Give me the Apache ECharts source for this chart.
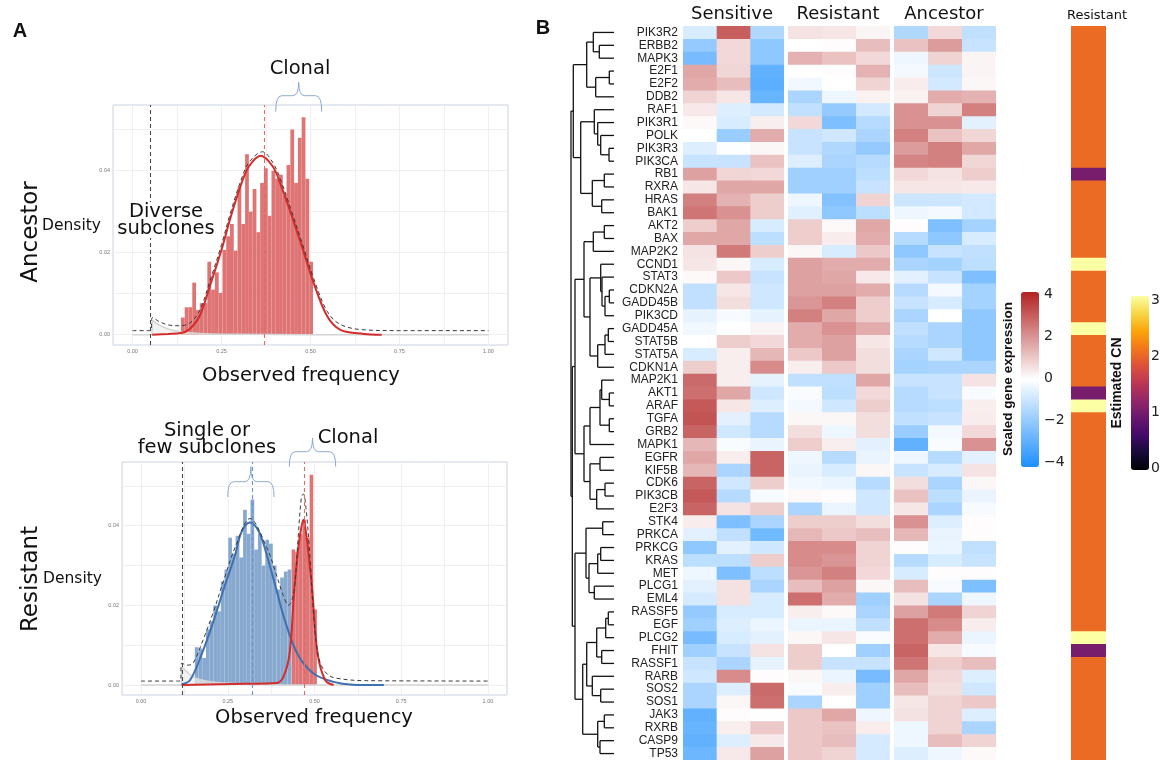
<!DOCTYPE html>
<html><head><meta charset="utf-8">
<script src="https://cdn.jsdelivr.net/npm/echarts@6/dist/echarts.min.js"></script>
<style>html,body{margin:0;padding:0;background:#fff}#c{width:1163px;height:760px}</style>
</head><body><div id="c"></div>
<script>
// ---------------- DATA ----------------
const freqTicks = [0, 0.25, 0.5, 0.75, 1];
const freqGrid = [0, 0.125, 0.25, 0.375, 0.5, 0.625, 0.75, 0.875, 1];
const densTicks = [0, 0.02, 0.04];
const densGrid = [0, 0.01, 0.02, 0.03, 0.04, 0.05];

// Ancestor histogram (observed frequency bins)
const ancHistStart = 0.136, ancHistWidth = 0.0106;
const ancHist = [0.0042,0.0067,0.0067,0.0127,0.0060,0.0077,0.0077,0.0178,0.0110,0.0152,0.0102,0.0207,0.0240,0.0270,0.0205,0.0360,0.0270,0.0440,0.0300,0.0355,0.0250,0.0370,0.0406,0.0290,0.0400,0.0380,0.0390,0.0340,0.0414,0.0500,0.0370,0.0480,0.0530,0.0380,0.0178];
const ancClonalCurve = [[0.055,0],[0.10,0.0002],[0.136,0.0004],[0.158,0.0012],[0.188,0.0045],[0.22,0.0126],[0.25,0.0207],[0.276,0.0288],[0.306,0.0369],[0.327,0.041],[0.36,0.0436],[0.394,0.041],[0.415,0.0369],[0.448,0.0288],[0.479,0.0207],[0.509,0.0126],[0.547,0.0045],[0.584,0.0012],[0.65,0.0002],[0.70,0]];
const ancTotalCurve = [[0,0.001],[0.05,0.001],[0.056,0.0042],[0.075,0.0032],[0.10,0.0024],[0.13,0.0022],[0.16,0.0028],[0.188,0.0058],[0.22,0.0138],[0.25,0.022],[0.276,0.030],[0.306,0.038],[0.327,0.042],[0.365,0.0446],[0.394,0.042],[0.415,0.038],[0.448,0.0298],[0.479,0.0217],[0.509,0.0137],[0.547,0.0057],[0.584,0.0025],[0.65,0.0012],[0.75,0.001],[1.0,0.001]];
const ancSubCurve = [[0,0],[0.054,0],[0.056,0.0035],[0.07,0.0026],[0.10,0.0014],[0.13,0.0008],[0.16,0.0005],[0.22,0.0002],[0.30,0.0001],[0.5,0],[1.0,0]];
const ancDetection = 0.0535, ancClonalMean = 0.368;

// Resistant histogram
const resSubHistStart = 0.155, resSubHistWidth = 0.0107;
const resSubHist = [0.0095,0.0092,0.0068,0.0140,0.0160,0.0200,0.0185,0.0260,0.0290,0.0370,0.0330,0.0375,0.0320,0.0440,0.0380,0.0466,0.0340,0.0380,0.0300,0.0365,0.0355,0.0300,0.0240,0.0270,0.0285,0.0290];
const resClHistStart = 0.434, resClHistWidth = 0.0104;
const resClHist = [0.0340,0.0335,0.0380,0.0415,0.0370,0.0528,0.0190];
const resSubCurve = [[0.117,0.0002],[0.141,0.0012],[0.175,0.0078],[0.209,0.0161],[0.239,0.0243],[0.271,0.0326],[0.29,0.0385],[0.314,0.0408],[0.34,0.0385],[0.3625,0.0326],[0.389,0.0243],[0.415,0.0161],[0.451,0.0078],[0.497,0.0029],[0.555,0.0008],[0.61,0.0001],[0.7,0]];
const resClCurve = [[0.117,0],[0.30,0.0003],[0.39,0.0005],[0.41,0.0020],[0.428,0.0078],[0.442,0.0243],[0.451,0.0326],[0.459,0.038],[0.468,0.0415],[0.476,0.038],[0.483,0.0326],[0.493,0.0243],[0.509,0.0078],[0.531,0.0012],[0.555,0]];
const resTotalCurve = [[0,0.001],[0.113,0.001],[0.117,0.0055],[0.135,0.0050],[0.15,0.0055],[0.175,0.0105],[0.209,0.0185],[0.239,0.0265],[0.271,0.0345],[0.314,0.0418],[0.3625,0.0345],[0.389,0.028],[0.41,0.0225],[0.425,0.0200],[0.44,0.0230],[0.452,0.0360],[0.462,0.0470],[0.468,0.0480],[0.476,0.0440],[0.487,0.0320],[0.50,0.0150],[0.515,0.0060],[0.54,0.0025],[0.58,0.0015],[0.65,0.0011],[1.0,0.001]];
const resBgCurve = [[0,0],[0.116,0],[0.118,0.0045],[0.13,0.0035],[0.15,0.0020],[0.2,0.0008],[0.3,0.0002],[0.45,0],[1.0,0]];
const resDetection = 0.117, resSubMean = 0.321, resClonalMean = 0.468;

// Heatmap
const genes = ['PIK3R2','ERBB2','MAPK3','E2F1','E2F2','DDB2','RAF1','PIK3R1','POLK','PIK3R3','PIK3CA','RB1','RXRA','HRAS','BAK1','AKT2','BAX','MAP2K2','CCND1','STAT3','CDKN2A','GADD45B','PIK3CD','GADD45A','STAT5B','STAT5A','CDKN1A','MAP2K1','AKT1','ARAF','TGFA','GRB2','MAPK1','EGFR','KIF5B','CDK6','PIK3CB','E2F3','STK4','PRKCA','PRKCG','KRAS','MET','PLCG1','EML4','RASSF5','EGF','PLCG2','FHIT','RASSF1','RARB','SOS2','SOS1','JAK3','RXRB','CASP9','TP53'];
const groups = ['Sensitive','Resistant','Ancestor'];
const sensitiveExpr = [[-0.7,2.9,-1.4],[-1.9,0.7,-2.0],[-2.4,0.7,-2.0],[1.6,0.75,-2.8],[1.5,1.2,-2.9],[0.8,0.45,-2.7],[0.4,-0.6,-0.8],[0.1,-0.7,0.3],[0.0,-1.8,1.5],[-0.6,-0.05,0.15],[-1.0,-1.0,1.1],[1.7,0.75,0.7],[0.45,1.6,1.6],[2.3,1.4,0.9],[2.5,2.0,0.9],[0.9,1.6,-0.7],[1.6,1.6,-1.2],[0.5,2.4,0.9],[0.45,0.15,-0.7],[0.1,1.0,-1.0],[-1.1,0.45,-0.85],[-1.1,0.6,-0.85],[-0.45,-0.15,-0.45],[-0.25,0.0,0.2],[0.0,0.9,0.7],[-0.7,0.3,1.3],[0.9,0.3,2.1],[2.7,0.3,-0.45],[2.6,1.6,-0.85],[3.0,0.45,-0.6],[3.1,-0.5,-1.3],[2.8,-0.85,-1.3],[1.3,-0.1,-0.4],[1.6,0.3,2.8],[1.3,-1.5,2.8],[2.8,-0.85,0.9],[3.0,-1.3,-0.15],[2.8,0.5,0.9],[0.35,-2.3,-1.5],[-0.5,-1.1,-2.5],[-2.0,-0.5,-0.85],[-1.2,-1.2,0.9],[-0.3,-2.3,-1.2],[-0.5,0.55,-1.5],[-0.75,0.55,-0.7],[-1.9,-0.7,-0.7],[-1.7,-0.6,-0.35],[-2.4,-0.7,-0.5],[-1.7,-1.0,0.5],[-1.0,-1.5,-0.45],[-0.85,2.1,0.05],[-1.5,-0.6,2.7],[-1.5,0.15,2.6],[-2.8,0.05,0.02],[-2.7,0.3,1.0],[-2.8,-0.6,0.4],[-2.6,0.4,1.7]];
const resistantExpr = [[0.5,0.45,0.2],[0.0,0.05,1.2],[1.4,1.1,0.7],[0.0,0.05,1.4],[-0.25,0.0,0.8],[-1.5,-0.3,0.25],[-1.1,-1.9,-0.8],[0.7,-2.3,-1.3],[-1.0,-0.85,-1.5],[-1.0,-1.4,-1.9],[-0.6,-1.5,-1.3],[-1.7,-1.7,-1.2],[-1.7,-1.7,-1.0],[-0.3,-2.2,0.8],[-0.55,-2.0,-1.2],[0.9,0.1,1.6],[0.9,0.35,1.5],[0.15,-0.7,1.0],[1.7,1.5,1.5],[1.7,1.6,0.4],[1.7,1.7,1.5],[1.9,2.3,0.9],[2.3,1.6,0.9],[1.5,2.0,1.5],[1.5,1.7,0.45],[1.0,1.7,0.6],[0.3,1.0,0.6],[-1.1,-1.1,1.6],[-0.1,-1.2,0.7],[-0.2,-0.85,0.9],[0.15,0.15,0.6],[0.6,-0.3,0.6],[0.9,0.3,-0.5],[-0.3,-1.3,-0.4],[-0.4,-0.7,0.15],[-0.25,-0.35,-1.3],[0.1,0.05,-0.85],[-1.5,-0.35,-0.85],[0.9,0.9,0.6],[1.3,1.0,1.2],[2.1,2.1,0.8],[2.1,1.9,0.8],[1.9,2.3,0.7],[1.2,1.7,0.15],[2.6,1.5,-1.7],[0.3,0.1,-1.5],[-0.35,-0.35,-1.1],[0.15,0.45,-0.1],[0.9,0.0,-1.7],[0.9,-1.0,-1.0],[0.15,-0.35,-2.4],[-0.1,0.3,-1.7],[-1.5,0.0,-1.7],[1.0,1.6,-0.3],[1.0,1.1,0.35],[1.0,1.2,-0.75],[1.0,0.8,-0.75]];
const ancestorExpr = [[-1.4,0.7,-1.1],[1.1,1.8,-1.0],[-0.3,0.8,0.2],[-0.2,-0.9,0.2],[0.35,-0.8,0.15],[0.25,1.5,1.4],[2.0,0.8,2.3],[2.0,2.0,-0.5],[2.3,1.1,0.75],[1.8,2.3,1.6],[2.2,2.3,0.75],[0.7,0.5,0.9],[0.45,0.45,0.4],[-0.9,-0.9,-0.8],[-0.3,-0.2,-0.8],[0.05,-2.3,-1.6],[-1.3,-2.0,-0.7],[-2.0,-1.0,-1.1],[-1.5,-1.6,-1.2],[-0.5,-1.0,-2.3],[-1.3,-0.2,-1.6],[-1.0,-0.7,-1.6],[-1.5,0.0,-2.0],[-1.1,-1.5,-2.0],[-1.3,-1.5,-2.0],[-1.5,-0.85,-2.0],[-1.6,-1.5,-1.5],[-1.0,-1.0,0.5],[-1.3,-1.0,-0.1],[-1.3,-1.2,0.3],[-1.1,-1.0,0.35],[-1.8,-0.2,0.7],[-2.8,-0.1,2.0],[-0.3,-1.3,-0.5],[-1.0,-0.7,0.5],[0.6,-1.5,0.15],[1.1,-1.2,-0.4],[0.45,-1.5,-0.15],[2.0,-0.6,0.05],[1.3,-0.4,0.05],[0.05,-0.35,-1.1],[-1.3,-0.7,-1.0],[-0.7,0.05,0.05],[1.2,-0.15,-2.3],[0.55,-1.5,-0.3],[1.7,2.4,0.8],[2.6,2.1,0.35],[2.6,1.5,-0.35],[2.8,0.45,-0.15],[2.5,0.9,1.2],[1.6,0.7,-0.6],[1.2,0.6,-0.85],[0.45,0.8,1.0],[0.55,0.8,-0.6],[-0.3,0.8,-1.5],[-0.3,1.2,0.8],[-0.6,-0.3,0.1]];
const resistantCN = [2,2,2,2,2,2,2,2,2,2,2,1,2,2,2,2,2,2,3,2,2,2,2,3,2,2,2,2,1,3,2,2,2,2,2,2,2,2,2,2,2,2,2,2,2,2,2,3,1,2,2,2,2,2,2,2,2];

// Dendrogram merges: [left, right, height]; '#k' refers to merge k
const dendroMerges = [
 ['ERBB2','MAPK3',14.7],['PIK3R2','#0',20.7],['E2F1','E2F2',4.7],['#2','DDB2',18.3],['#1','#3',27.3],
 ['PIK3R3','PIK3CA',5],['POLK','#5',13.3],['PIK3R1','#6',16.3],['RAF1','#7',19.7],['RB1','RXRA',9.7],
 ['HRAS','BAK1',12.3],['#9','#10',21.7],['#8','#11',33.3],['#4','#12',40.7],
 ['AKT2','BAX',9.7],['#14','MAP2K2',20.7],['CDKN2A','GADD45B',4.7],['#16','PIK3CD',9],['STAT3','#17',12],
 ['CCND1','#18',13.3],['GADD45A','STAT5B',5.7],['#20','STAT5A',9],['#21','CDKN1A',16.3],['#19','#22',24],
 ['#15','#23',30],['AKT1','ARAF',4.7],['MAP2K1','#25',12.3],['TGFA','GRB2',4.7],['#26','#27',14],
 ['#28','MAPK1',24],['EGFR','KIF5B',14],['CDK6','PIK3CB',9],['#31','E2F3',17.3],['#30','#32',24],
 ['#29','#33',30],['#24','#34',39],
 ['STK4','PRKCA',11.3],['PRKCG','KRAS',13.3],['#37','MET',16.3],['PLCG1','EML4',19.7],['#38','#39',25],
 ['#36','#40',28],['RASSF5','EGF',5.7],['#42','PLCG2',8.3],['FHIT','RASSF1',12.3],['#43','#44',17.3],
 ['SOS2','SOS1',13.3],['RARB','#46',21.7],['#45','#47',27.3],['JAK3','RXRB',9.7],['CASP9','TP53',14],
 ['#49','#50',16.3],['#48','#51',31.3],['#41','#52',39],['#35','#53',41.7],['#13','#54',43]
];

// ---------------- BUILD ----------------
const inferno = ['#000004','#160b39','#420a68','#6a176e','#932667','#bc3754','#dd513a','#f37819','#fca50a','#f6d746','#fcffa4'];
const fmt2 = v => v.toFixed(2);
const minus = v => v < 0 ? '\u2212' + (-v) : String(v);

function histItems(start, w, hs) { return hs.map((h, i) => [start + i * w, start + (i + 1) * w, h]); }
function histSeries(xi, items, color) {
  return { type: 'custom', xAxisIndex: xi, yAxisIndex: xi, data: items, encode: { x: [0, 1], y: 2 }, silent: true, z: 2,
    renderItem: (p, api) => {
      const a = api.coord([api.value(0), api.value(2)]), b = api.coord([api.value(1), 0]);
      return { type: 'rect', shape: { x: a[0], y: a[1], width: b[0] - a[0], height: b[1] - a[1] }, style: { fill: color } };
    } };
}
function curve(xi, data, color, width, type, extra) {
  return Object.assign({ type: 'line', xAxisIndex: xi, yAxisIndex: xi, data: data, smooth: 0.35, showSymbol: false, silent: true, z: 4,
    lineStyle: { color: color, width: width, type: type } }, extra || {});
}
function vline(v, color) {
  return { xAxis: v, lineStyle: { color: color, type: [4, 3], width: 1.1 } };
}
function histAxes(gi) {
  return {
    x: { type: 'value', gridIndex: gi, min: -0.055, max: 1.055, axisLine: { show: false },
      axisTick: { show: false, customValues: freqGrid },
      axisLabel: { customValues: freqTicks, formatter: fmt2, fontSize: 5.5, color: '#777', margin: 3 },
      splitLine: { show: true, lineStyle: { color: '#ececf1', width: 0.8 } } },
    y: { type: 'value', gridIndex: gi, min: -0.0025, max: 0.056, axisLine: { show: false },
      axisTick: { show: false, customValues: densGrid },
      axisLabel: { customValues: densTicks, formatter: fmt2, fontSize: 5.5, color: '#777', margin: 3 },
      splitLine: { show: true, lineStyle: { color: '#ececf1', width: 0.8 } } }
  };
}
// heatmap-like cells drawn through the category axes, overlapping slightly to avoid seams
function cellSeries(xi, data, nCols) {
  return { type: 'custom', xAxisIndex: xi, yAxisIndex: xi, data: data, encode: { x: 0, y: 1 }, silent: true,
    renderItem: (p, api) => {
      const c = api.coord([api.value(0), api.value(1)]), s = api.size([1, 1]);
      const ex = api.value(0) < nCols - 1 ? 1 : 0, ey = api.value(1) < genes.length - 1 ? 1.2 : 0;
      return { type: 'rect', shape: { x: c[0] - s[0] / 2, y: c[1] - s[1] / 2, width: s[0] + ex, height: s[1] + ey },
        style: { fill: api.visual('color') } };
    } };
}

// dendrogram segments from merges
const nodes = {};
genes.forEach((g, i) => nodes[g] = { y: i, h: 0 });
const dendroSegs = [];
dendroMerges.forEach((m, k) => {
  const a = nodes[m[0]], b = nodes[m[1]], h = m[2];
  dendroSegs.push([a.h, a.y, h, a.y], [b.h, b.y, h, b.y], [h, a.y, h, b.y]);
  nodes['#' + k] = { y: (a.y + b.y) / 2, h: h };
});

const toCells = rows => rows.flatMap((r, i) => r.map((v, j) => [j, i, v]));

const grids = [
  { left: 113, top: 105, width: 395, height: 240, show: true, borderColor: '#ccd3df', borderWidth: 1, backgroundColor: '#fff' },
  { left: 122, top: 462, width: 385, height: 233, show: true, borderColor: '#ccd3df', borderWidth: 1, backgroundColor: '#fff' },
  { left: 683, top: 26, width: 101, height: 734 },
  { left: 788, top: 26, width: 102, height: 734 },
  { left: 894, top: 26, width: 102, height: 734 },
  { left: 567, top: 26, width: 47, height: 734 },
  { left: 1071, top: 26, width: 35, height: 734 },
  { left: 1021, top: 294.3, width: 18, height: 168.4 },
  { left: 1131, top: 300.7, width: 18, height: 167.3 }
];
const h0 = histAxes(0), h1 = histAxes(1);
const catX = gi => ({ type: 'category', gridIndex: gi, data: ['1', '2', '3'], show: false });
const geneY = (gi, showLabels) => ({ type: 'category', gridIndex: gi, data: genes, inverse: true,
  axisLine: { show: false }, axisTick: { show: false },
  axisLabel: { show: showLabels, interval: 0, fontSize: 12, color: '#222', margin: 5, fontFamily: 'Liberation Sans, Arial, sans-serif' } });

const xAxes = [h0.x, h1.x, catX(2), catX(3), catX(4),
  { type: 'value', gridIndex: 5, min: 0, max: 47, inverse: true, show: false },
  { type: 'category', gridIndex: 6, data: ['Resistant'], show: false },
  { type: 'value', gridIndex: 7, show: false, min: 0, max: 1 },
  { type: 'value', gridIndex: 8, show: false, min: 0, max: 1 }];
const barAxis = (gi, min, max, interval, pos, labels, fmt) => ({ type: 'value', gridIndex: gi, min, max, interval, position: pos,
  axisLine: { show: false }, splitLine: { show: false },
  axisTick: { show: true, inside: true, length: 4, lineStyle: { color: '#ffffff', width: 1 } },
  axisLabel: { show: labels, margin: 5, fontSize: 14, color: '#222', fontFamily: 'DejaVu Sans, sans-serif', formatter: fmt } });
const yAxes = [h0.y, h1.y, geneY(2, true), geneY(3, false), geneY(4, false),
  { type: 'value', gridIndex: 5, min: -0.5, max: genes.length - 0.5, inverse: true, show: false },
  geneY(6, false),
  barAxis(7, -4, 4, 2, 'right', true, minus), barAxis(7, -4, 4, 2, 'left', false, minus),
  barAxis(8, 0, 3, 1, 'right', true, v => String(v)), barAxis(8, 0, 3, 1, 'left', false, v => String(v))];

const series = [
  histSeries(0, histItems(ancHistStart, ancHistWidth, ancHist), '#df7474'),
  curve(0, ancSubCurve, '#d4d4d4', 1.5, 'solid', { areaStyle: { color: '#ececec', opacity: 0.7 } }),
  curve(0, ancClonalCurve, '#d42b2b', 2, 'solid'),
  curve(0, ancTotalCurve, '#3a3a3a', 1, [4, 3], { markLine: { silent: true, symbol: ['none', 'none'], label: { show: false },
    data: [vline(ancDetection, '#4a4a4a'), vline(ancClonalMean, '#e06a6a')] } }),
  histSeries(1, histItems(resSubHistStart, resSubHistWidth, resSubHist), '#88a9cf'),
  histSeries(1, histItems(resClHistStart, resClHistWidth, resClHist), '#df7474'),
  curve(1, resBgCurve, '#d4d4d4', 1.5, 'solid', { areaStyle: { color: '#ececec', opacity: 0.7 } }),
  curve(1, resSubCurve, '#3f70b2', 2, 'solid'),
  curve(1, resClCurve, '#d42b2b', 2, 'solid'),
  curve(1, resTotalCurve, '#3a3a3a', 1, [4, 3], { markLine: { silent: true, symbol: ['none', 'none'], label: { show: false },
    data: [vline(resDetection, '#4a4a4a'), vline(resSubMean, '#6e93c6'), vline(resClonalMean, '#e06a6a')] } }),
  cellSeries(2, toCells(sensitiveExpr), 3),
  cellSeries(3, toCells(resistantExpr), 3),
  cellSeries(4, toCells(ancestorExpr), 3),
  { type: 'custom', xAxisIndex: 5, yAxisIndex: 5, data: dendroSegs, silent: true, encode: { x: [0, 2], y: [1, 3] },
    renderItem: (p, api) => {
      const a = api.coord([api.value(0), api.value(1)]), b = api.coord([api.value(2), api.value(3)]);
      return { type: 'line', shape: { x1: a[0], y1: a[1], x2: b[0], y2: b[1] }, style: { stroke: '#111', lineWidth: 1.3 } };
    } },
  cellSeries(6, resistantCN.map((v, i) => [0, i, v]), 1),
  { type: 'line', xAxisIndex: 7, yAxisIndex: 7, data: [], silent: true },
  { type: 'line', xAxisIndex: 8, yAxisIndex: 9, data: [], silent: true }
];

// curly brace made of quadratic curves and lines (annotation decoration)
function brace(x1, x2, yEnd, yArm, yTip) {
  const xm = (x1 + x2) / 2, r = 6, st = { stroke: '#8eaad1', lineWidth: 1, fill: null };
  const q = (ax, ay, cx, cy, bx, by) => ({ type: 'bezierCurve', silent: true, z: 100, shape: { x1: ax, y1: ay, x2: bx, y2: by, cpx1: cx, cpy1: cy }, style: st });
  const l = (ax, ay, bx, by) => ({ type: 'line', silent: true, z: 100, shape: { x1: ax, y1: ay, x2: bx, y2: by }, style: st });
  return [q(x1, yEnd, x1, yArm, x1 + r, yArm), l(x1 + r, yArm, xm - r, yArm), q(xm - r, yArm, xm, yArm, xm, yTip),
          q(xm, yTip, xm, yArm, xm + r, yArm), l(xm + r, yArm, x2 - r, yArm), q(x2 - r, yArm, x2, yArm, x2, yEnd)];
}
const FA = 'DejaVu Sans, Verdana, sans-serif';
const txt = (x, y, text, font, extra, styleExtra) => Object.assign({ type: 'text', x, y, silent: true, z: 100,
  style: Object.assign({ text, font, fill: '#111', align: 'center', verticalAlign: 'middle' }, styleExtra || {}) }, extra || {});

const graphic = [
  txt(20, 31, 'A', 'bold 20px Liberation Sans, Arial, sans-serif'),
  txt(543, 28, 'B', 'bold 20px Liberation Sans, Arial, sans-serif'),
  txt(31, 232, 'Ancestor', '23px ' + FA, { rotation: Math.PI / 2 }),
  txt(31, 579, 'Resistant', '23px ' + FA, { rotation: Math.PI / 2 }),
  txt(101, 226, 'Density', '15.5px ' + FA, null, { align: 'right' }),
  txt(102, 579, 'Density', '15.5px ' + FA, null, { align: 'right' }),
  txt(301, 376, 'Observed frequency', '19.5px ' + FA),
  txt(314, 718, 'Observed frequency', '19.5px ' + FA),
  txt(300, 69, 'Clonal', '19.5px ' + FA),
  txt(166, 220, 'Diverse\nsubclones', '19.5px ' + FA, null, { lineHeight: 17, backgroundColor: '#ffffff', padding: [1, 2] }),
  txt(207, 431, 'Single or', '19.5px ' + FA),
  txt(207, 448, 'few subclones', '19.5px ' + FA),
  txt(348, 438, 'Clonal', '19.5px ' + FA),
  ...brace(275.7, 321.7, 111.7, 95.7, 82.3),
  ...brace(227.7, 274, 497, 481.7, 466.7),
  ...brace(289.3, 335.7, 466.7, 451.7, 438),
  txt(732, 14, groups[0], '18px ' + FA),
  txt(838, 14, groups[1], '18px ' + FA),
  txt(944, 14, groups[2], '18px ' + FA),
  txt(1097, 16, 'Resistant', '13px ' + FA),
  txt(1008, 379, 'Scaled gene expression', 'bold 13.5px Liberation Sans Narrow, Liberation Sans, Arial, sans-serif', { rotation: Math.PI / 2 }),
  txt(1117, 383, 'Estimated CN', 'bold 14px Liberation Sans Narrow, Liberation Sans, Arial, sans-serif', { rotation: Math.PI / 2 })
];

const chart = echarts.init(document.getElementById('c'), null, { renderer: 'canvas' });
chart.setOption({
  animation: false,
  backgroundColor: '#ffffff',
  grid: grids,
  xAxis: xAxes,
  yAxis: yAxes,
  visualMap: [
    { type: 'continuous', seriesIndex: [10, 11, 12], dimension: 2, min: -4, max: 4, calculable: false, orient: 'vertical',
      left: 1021, top: 292, itemWidth: 18, itemHeight: 175, padding: 0, text: null, showLabel: false,
      inRange: { color: ['#1E90FF', '#FFFFFF', '#B22222'] } },
    { type: 'continuous', seriesIndex: [14], dimension: 2, min: 0, max: 3, calculable: false, orient: 'vertical',
      left: 1131, top: 296, itemWidth: 18, itemHeight: 174, padding: 0, text: null, showLabel: false,
      inRange: { color: inferno } }
  ],
  series: series,
  graphic: graphic
});
</script>
</body></html>
